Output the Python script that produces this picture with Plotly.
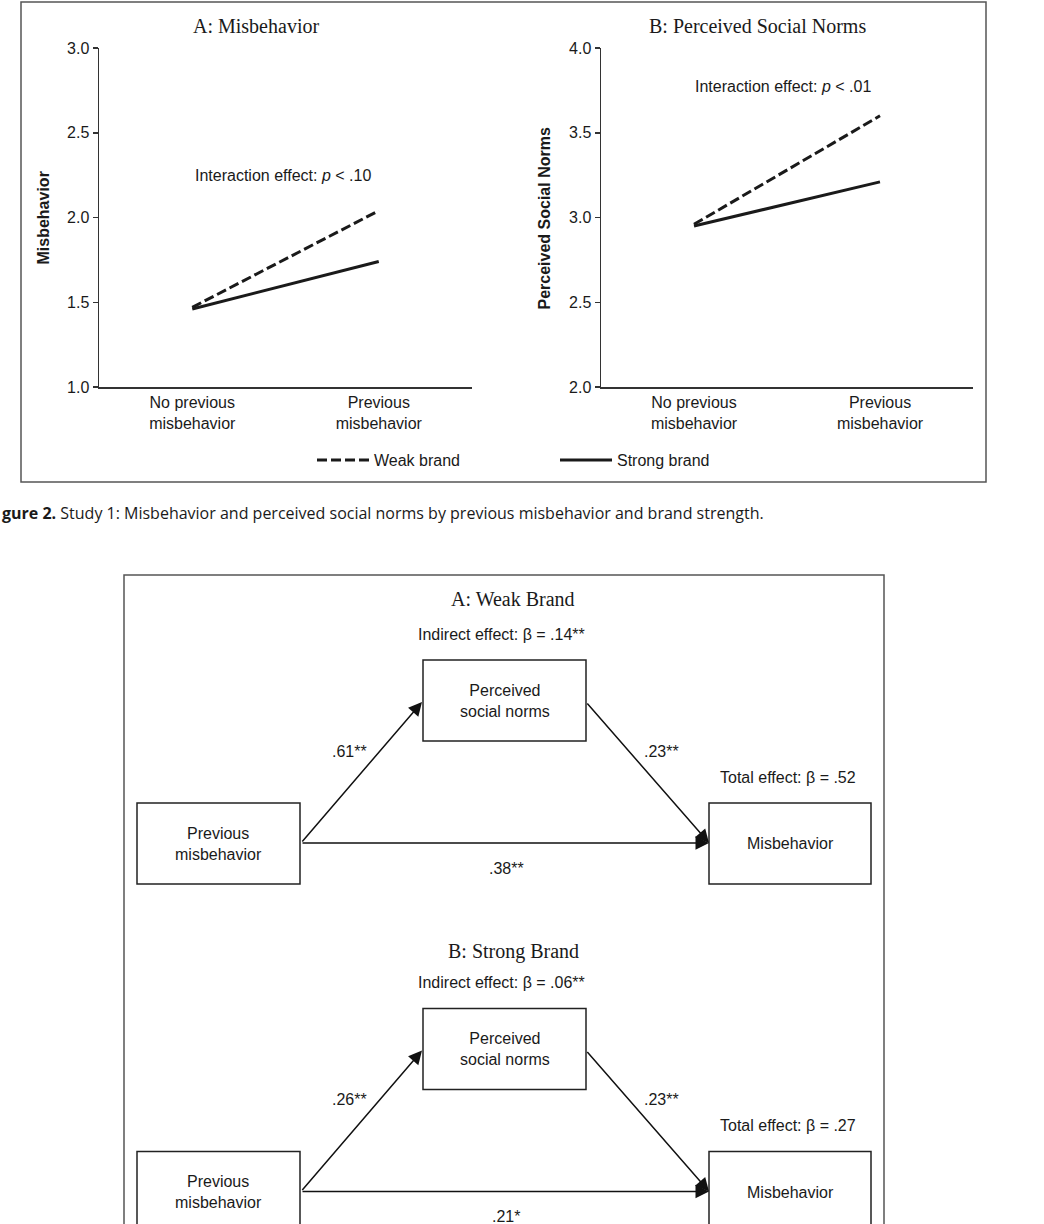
import plotly.graph_objects as go

# ---------------- data ----------------
categories = ["No previous<br>misbehavior", "Previous<br>misbehavior"]
misb_weak = [1.47, 2.04]
misb_strong = [1.46, 1.74]
norms_weak = [2.96, 3.60]
norms_strong = [2.95, 3.21]
misb_ticks = [1.0, 1.5, 2.0, 2.5, 3.0]
norms_ticks = [2.0, 2.5, 3.0, 3.5, 4.0]
interaction_p = [".10", ".01"]

diagram_titles = ["A: Weak Brand", "B: Strong Brand"]
indirect_beta = [".14**", ".06**"]
path_a = [".61**", ".26**"]
path_b = [".23**", ".23**"]
path_c = [".38**", ".21*"]
total_beta = [".52", ".27"]

W, H = 1044, 1224
def X(p): return p / W
def Y(p): return 1 - p / H

INK = "#1a1a1a"
SANS = "Liberation Sans, Arial, sans-serif"
SERIF = "Liberation Serif, Times New Roman, serif"

fig = go.Figure()
dash = "10px,4px"
fig.add_trace(go.Scatter(x=categories, y=misb_weak, mode="lines", name="Weak brand",
                         line=dict(color=INK, width=3, dash=dash), xaxis="x", yaxis="y", showlegend=True))
fig.add_trace(go.Scatter(x=categories, y=misb_strong, mode="lines", name="Strong brand",
                         line=dict(color=INK, width=3), xaxis="x", yaxis="y", showlegend=True))
fig.add_trace(go.Scatter(x=categories, y=norms_weak, mode="lines", name="Weak brand",
                         line=dict(color=INK, width=3, dash=dash), xaxis="x2", yaxis="y2", showlegend=False))
fig.add_trace(go.Scatter(x=categories, y=norms_strong, mode="lines", name="Strong brand",
                         line=dict(color=INK, width=3), xaxis="x2", yaxis="y2", showlegend=False))

axfont = dict(family=SANS, size=16, color=INK)
xcommon = dict(type="category", range=[-0.5, 1.5], showline=True, linecolor="#333", linewidth=1.5,
               ticks="", showgrid=False, zeroline=False, tickfont=axfont, fixedrange=True,
               automargin=False)
ycommon = dict(showline=True, linecolor="#333", linewidth=1.5, ticks="outside", ticklen=5,
               tickwidth=1.5, tickcolor="#333", showgrid=False, zeroline=False, tickfont=axfont,
               tickformat=".1f", automargin=False, fixedrange=True)

fig.update_layout(
    width=W, height=H, margin=dict(l=0, r=0, t=0, b=0, autoexpand=False),
    paper_bgcolor="white", plot_bgcolor="white",
    xaxis=dict(domain=[X(99), X(472)], anchor="y", **xcommon),
    yaxis=dict(domain=[Y(387), Y(48)], anchor="x", range=[1.0, 3.0], tickvals=misb_ticks, **ycommon),
    xaxis2=dict(domain=[X(601), X(973)], anchor="y2", **xcommon),
    yaxis2=dict(domain=[Y(387), Y(48)], anchor="x2", range=[2.0, 4.0], tickvals=norms_ticks, **ycommon),
    legend=dict(orientation="h", x=X(312), y=Y(460), xanchor="left", yanchor="middle",
                font=dict(family=SANS, size=16, color=INK), itemwidth=52,
                entrywidth=176, entrywidthmode="pixels", bgcolor="rgba(0,0,0,0)"),
    showlegend=True,
)

shapes = []
ann = []

def text(x, y, t, font, **kw):
    d = dict(x=X(x), y=Y(y), xref="paper", yref="paper", text=t, showarrow=False,
             xanchor="center", yanchor="middle", font=font)
    d.update(kw)
    ann.append(d)

# top panel frame
shapes.append(dict(type="rect", xref="paper", yref="paper", x0=X(21), x1=X(986), y0=Y(482), y1=Y(2),
                   line=dict(color="#555", width=1.5)))

serif20 = dict(family=SERIF, size=20, color=INK)
sans16 = dict(family=SANS, size=16, color=INK)
text(256, 26, "A: Misbehavior", serif20)
text(757, 26, "B: Perceived Social Norms", serif20)
text(43, 218.5, "<b>Misbehavior</b>", sans16, textangle=-90)
text(544, 218.5, "<b>Perceived Social Norms</b>", sans16, textangle=-90)
text(283, 176, "Interaction effect: <i>p</i> < " + interaction_p[0], sans16)
text(783, 87, "Interaction effect: <i>p</i> < " + interaction_p[1], sans16)

# caption
text(0, 513, "<b>gure 2.</b> Study 1: Misbehavior and perceived social norms by previous misbehavior and brand strength.",
     dict(family="Open Sans, Lato, sans-serif", size=16, color=INK), xanchor="left")

# bottom frame (continues below page)
shapes.append(dict(type="path", xref="paper", yref="paper",
                   path=f"M {X(124)} {Y(1240)} L {X(124)} {Y(575)} L {X(884)} {Y(575)} L {X(884)} {Y(1240)}",
                   line=dict(color="#555", width=1.5)))

def diagram(i, off, toff):
    text(513, 599 + toff, diagram_titles[i], serif20)
    text(501, 634 + off, "Indirect effect: β = " + indirect_beta[i], sans16)
    boxes = [(423, 586, 660, 741, "Perceived<br>social norms"),
             (137, 300, 803, 884, "Previous<br>misbehavior"),
             (709, 871, 803, 884, "Misbehavior")]
    for x0, x1, y0, y1, txt in boxes:
        shapes.append(dict(type="rect", xref="paper", yref="paper", x0=X(x0), x1=X(x1),
                           y0=Y(y1 + off), y1=Y(y0 + off), line=dict(color="#222", width=1.5)))
        text((x0 + x1) / 2, (y0 + y1) / 2 + off, txt, sans16)
    arrows = [((301, 843), (422, 702)), ((586, 702), (709, 843)), ((301, 843), (709, 843))]
    for (tx, ty), (hx, hy) in arrows:
        ann.append(dict(x=X(hx), y=Y(hy + off), xref="paper", yref="paper", text="",
                        showarrow=True, arrowhead=2, arrowsize=1.8, arrowwidth=1.5, arrowcolor="#111",
                        ax=tx - hx, ay=ty - hy, standoff=0, startstandoff=0))
    text(349, 751 + off, path_a[i], sans16)
    text(661, 751 + off, path_b[i], sans16)
    text(506, 868 + off, path_c[i], sans16)
    text(788, 777 + off, "Total effect: β = " + total_beta[i], sans16)

diagram(0, 0, 0)
diagram(1, 348.5, 352.5)

fig.update_layout(shapes=shapes, annotations=ann)
fig.write_html("out.html", config={"displayModeBar": False, "staticPlot": True},
               post_script="document.body.style.margin='0';document.body.style.overflow='hidden';")
